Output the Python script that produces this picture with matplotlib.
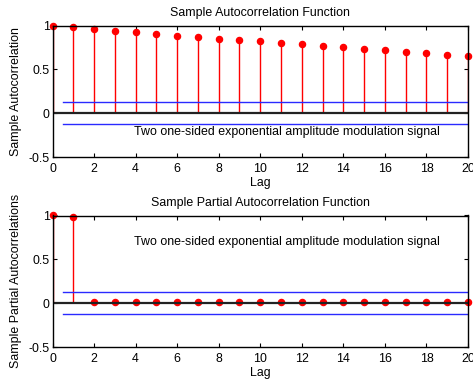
import matplotlib
matplotlib.use("Agg")
import matplotlib.pyplot as plt
import numpy as np

plt.rcParams['font.family'] = ['Liberation Sans', 'DejaVu Sans']

lags = list(range(21))
acf = [1.0, 0.98, 0.96, 0.935, 0.925, 0.905, 0.883, 0.87, 0.85, 0.84,
       0.82, 0.795, 0.79, 0.765, 0.755, 0.73, 0.72, 0.697, 0.685, 0.667, 0.65]
pacf = [1.0, 0.985] + [0.01] * 19
bound = 0.125
note = "Two one-sided exponential amplitude modulation signal"
titles = ["Sample Autocorrelation Function", "Sample Partial Autocorrelation Function"]
ylabels = ["Sample Autocorrelation", "Sample Partial Autocorrelations"]
xticks = list(range(0, 21, 2))
yticks = [-0.5, 0, 0.5, 1]
yticklabels = ["-0.5", "0", "0.5", "1"]

W, H = 473, 387
fig = plt.figure(figsize=(W / 100, H / 100), dpi=100)
fs = 8.9

def px_axes(left, top, right, bottom):
    return fig.add_axes([left / W, 1 - bottom / H, (right - left) / W, (bottom - top) / H])

axes = [px_axes(52.5, 25.5, 468, 157), px_axes(52.5, 215.5, 468, 347)]
data = [acf, pacf]
note_pos = [(3.9, -0.22), (3.9, 0.70)]

for ax, vals, title, ylab, (tx, ty) in zip(axes, data, titles, ylabels, note_pos):
    ml, sl, bl = ax.stem(lags, vals, linefmt='r-', markerfmt='ro', basefmt='k-')
    plt.setp(sl, linewidth=1.0)
    plt.setp(ml, markersize=4.4, clip_on=False)
    plt.setp(bl, linewidth=1.6, color='#222222')
    ax.plot([0.5, 20], [bound, bound], color='#2a2aff', linewidth=1.0)
    ax.plot([0.5, 20], [-bound, -bound], color='#2a2aff', linewidth=1.0)
    ax.set_xlim(0, 20)
    ax.set_ylim(-0.5, 1)
    ax.set_xticks(xticks)
    ax.set_yticks(yticks)
    ax.set_yticklabels(yticklabels)
    ax.tick_params(direction='in', length=3, labelsize=fs, top=True, right=True)
    ax.tick_params(axis='x', pad=4)
    ax.tick_params(axis='y', pad=2)
    for s in ax.spines.values():
        s.set_linewidth(1.0)
    ax.set_title(title, fontsize=fs, pad=6.5)
    ax.set_xlabel("Lag", fontsize=fs, labelpad=2)
    ax.set_ylabel(ylab, fontsize=fs, labelpad=5)
    ax.text(tx, ty, note, fontsize=fs, va='center', ha='left')

fig.savefig("out.png", dpi=100)
